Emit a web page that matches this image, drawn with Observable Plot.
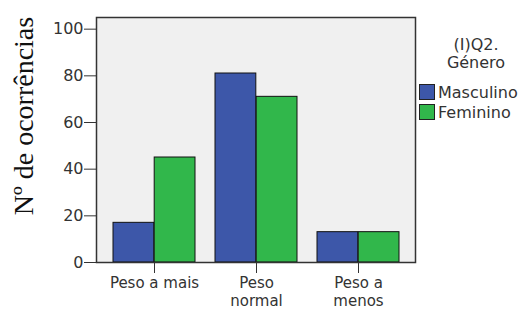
<!DOCTYPE html>
<html>
<head>
<meta charset="utf-8">
<script src="https://cdn.jsdelivr.net/npm/d3@7"></script>
<script src="https://cdn.jsdelivr.net/npm/@observablehq/plot@0.6"></script>
<style>
  html, body { margin: 0; padding: 0; background: #fff; }
  #wrap { position: relative; width: 528px; height: 311px; overflow: hidden; }
  #ytitle { position: absolute; left: 24px; top: 116px; transform: translate(-50%, -50%) rotate(-90deg);
    font-family: "Liberation Serif", "Times New Roman", serif; font-size: 28px; line-height: 1; white-space: nowrap; color: #111; }
  #legend { position: absolute; left: 419px; top: 36px; width: 109px; font-family: "DejaVu Sans", sans-serif; color: #333; }
  #legend .title { text-align: center; font-size: 16px; line-height: 18px; height: 18px; margin-left: 5px; }
  #legend .item { display: flex; align-items: center; font-size: 16px; height: 20px; margin-top: 0; }
  #legend .sw { width: 16px; height: 16px; border: 1px solid #222; margin-right: 3px; box-sizing: border-box; }
</style>
</head>
<body>
<div id="wrap">
  <div id="chart"></div>
  <div id="ytitle">Nº de ocorrências</div>
  <div id="legend"></div>
</div>
<script>
const categories = ["Peso a mais", "Peso normal", "Peso a menos"];
const tickLabels = ["Peso a mais", "Peso\nnormal", "Peso a\nmenos"];
const genders = ["Masculino", "Feminino"];
const colors = ["#3d57a9", "#31b74b"];
const masculino = [17, 81, 13];
const feminino = [45, 71, 13];
const yTicks = [0, 20, 40, 60, 80, 100];
const legendTitle = ["(I)Q2.", "Género"];

const rowsM = categories.map((c, i) => ({cat: c, gender: genders[0], value: masculino[i]}));
const rowsF = categories.map((c, i) => ({cat: c, gender: genders[1], value: feminino[i]}));

const W = 528, H = 311, mL = 96, mR = 113, mT = 17, mB = 49;
const padIn = 0.2, padOut = 0.149;
const step = (W - mL - mR) / (categories.length - padIn + 2 * padOut);
const half = step * (1 - padIn) / 2;

const plot = Plot.plot({
  width: W, height: H,
  marginLeft: mL, marginRight: mR, marginTop: mT, marginBottom: mB,
  style: {fontFamily: "DejaVu Sans, sans-serif", fontSize: "16px", color: "#333", background: "transparent"},
  x: {domain: categories, paddingInner: padIn, paddingOuter: padOut},
  y: {domain: [0, 105]},
  color: {domain: genders, range: colors},
  marks: [
    Plot.frame({fill: "#f0f0f0", stroke: null}),
    Plot.barY(rowsM, {x: "cat", y: "value", fill: "gender", stroke: "#111", strokeWidth: 1, insetRight: half}),
    Plot.barY(rowsF, {x: "cat", y: "value", fill: "gender", stroke: "#111", strokeWidth: 1, insetLeft: half}),
    Plot.frame({stroke: "#333", strokeWidth: 1.5}),
    Plot.axisY({ticks: yTicks, label: null, tickSize: 12, tickPadding: 1, fontSize: 16}),
    Plot.axisX({label: null, tickSize: 11, tickPadding: 2, fontSize: 15, lineHeight: 1.17,
      tickFormat: d => tickLabels[categories.indexOf(d)]})
  ]
});
document.getElementById("chart").appendChild(plot);

const lg = document.getElementById("legend");
legendTitle.forEach(t => {
  const d = document.createElement("div");
  d.className = "title"; d.textContent = t; lg.appendChild(d);
});
const spacer = document.createElement("div"); spacer.style.height = "10px"; lg.appendChild(spacer);
genders.forEach((g, i) => {
  const it = document.createElement("div"); it.className = "item";
  const sw = document.createElement("div"); sw.className = "sw"; sw.style.background = colors[i];
  const tx = document.createElement("span"); tx.textContent = g;
  it.appendChild(sw); it.appendChild(tx); lg.appendChild(it);
});
</script>
</body>
</html>
